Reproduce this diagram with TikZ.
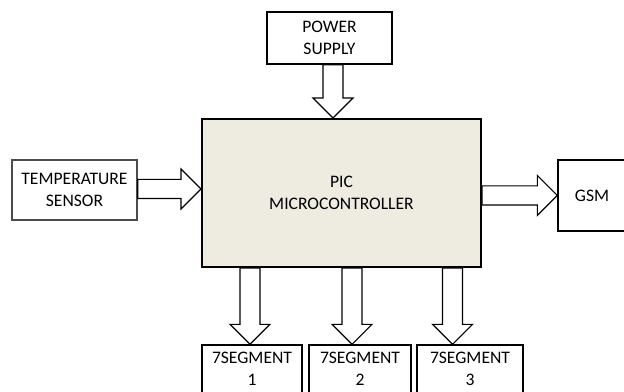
\documentclass[tikz,border=0pt]{standalone}
\usepackage{fontspec}
\setmainfont{Carlito}
\usepackage{tikz}
\usetikzlibrary{calc}
\definecolor{chipfill}{HTML}{EEECE1}

\begin{document}
\begin{tikzpicture}[
			x=0.025cm, y=-0.025cm,
			box/.style={draw, line width=1pt, fill=white, align=center, inner sep=0pt,
				font=\fontsize{12.5}{15.6}\selectfont},
			chip/.style={box, line width=1.4pt, fill=chipfill},
			blk/.style={draw, line width=0.8pt, fill=white, line join=miter},
			downblk/.style={to path={let \p1=(\tikztostart), \p2=(\tikztotarget) in
				(\x1-7.1pt,\y1) -- (\x1+7.1pt,\y1) -- (\x1+7.1pt,\y2+14.2pt) -- (\x1+14.2pt,\y2+14.2pt)
				-- (\x1,\y2) -- (\x1-14.2pt,\y2+14.2pt) -- (\x1-7.1pt,\y2+14.2pt) -- cycle}},
			rightblk/.style={to path={let \p1=(\tikztostart), \p2=(\tikztotarget) in
				(\x1,\y1+6.8pt) -- (\x2-14.2pt,\y1+6.8pt) -- (\x2-14.2pt,\y1+14.2pt) -- (\x2,\y1)
				-- (\x2-14.2pt,\y1-14.2pt) -- (\x2-14.2pt,\y1-6.8pt) -- (\x1,\y1-6.8pt) -- cycle}}
			]
			\useasboundingbox (0,0) rectangle (624,392);
			\clip (0,0) rectangle (624,392);
			\node[box, minimum width=3.125cm, minimum height=1.3cm] (power) at (329.5,38) {POWER\\SUPPLY};
			\node[chip, minimum width=6.975cm, minimum height=3.7cm] (mc) at (341.5,193) {PIC\\MICROCONTROLLER};
			\node[box, draw=black!70, minimum width=3.125cm, minimum height=1.5cm] (temp) at (74.5,190) {TEMPERATURE\\SENSOR};
			\node[box, minimum width=1.7cm, minimum height=1.775cm] (gsm) at (592,195.5) {GSM};
			\node[box, minimum width=2.5cm, minimum height=1.2cm] (seg1) at (252,369) {7SEGMENT\\1};
			\node[box, minimum width=2.55cm, minimum height=1.2cm] (seg2) at (360,369) {7SEGMENT\\2};
			\node[box, minimum width=2.65cm, minimum height=1.2cm] (seg3) at (470,369) {7SEGMENT\\3};
			\draw[blk, downblk] (333,0 |- power.south) to (333,0 |- mc.north);
			\draw[blk, rightblk] (temp.east |- 0,189) to (mc.west |- 0,189);
			\draw[blk, rightblk] (mc.east |- 0,195.5) to (gsm.west |- 0,195.5);
			\draw[blk, downblk] (250,0 |- mc.south) to (250,0 |- seg1.north);
			\draw[blk, downblk] (352,0 |- mc.south) to (352,0 |- seg2.north);
			\draw[blk, downblk] (452.5,0 |- mc.south) to (452.5,0 |- seg3.north);
		\end{tikzpicture}
\end{document}
